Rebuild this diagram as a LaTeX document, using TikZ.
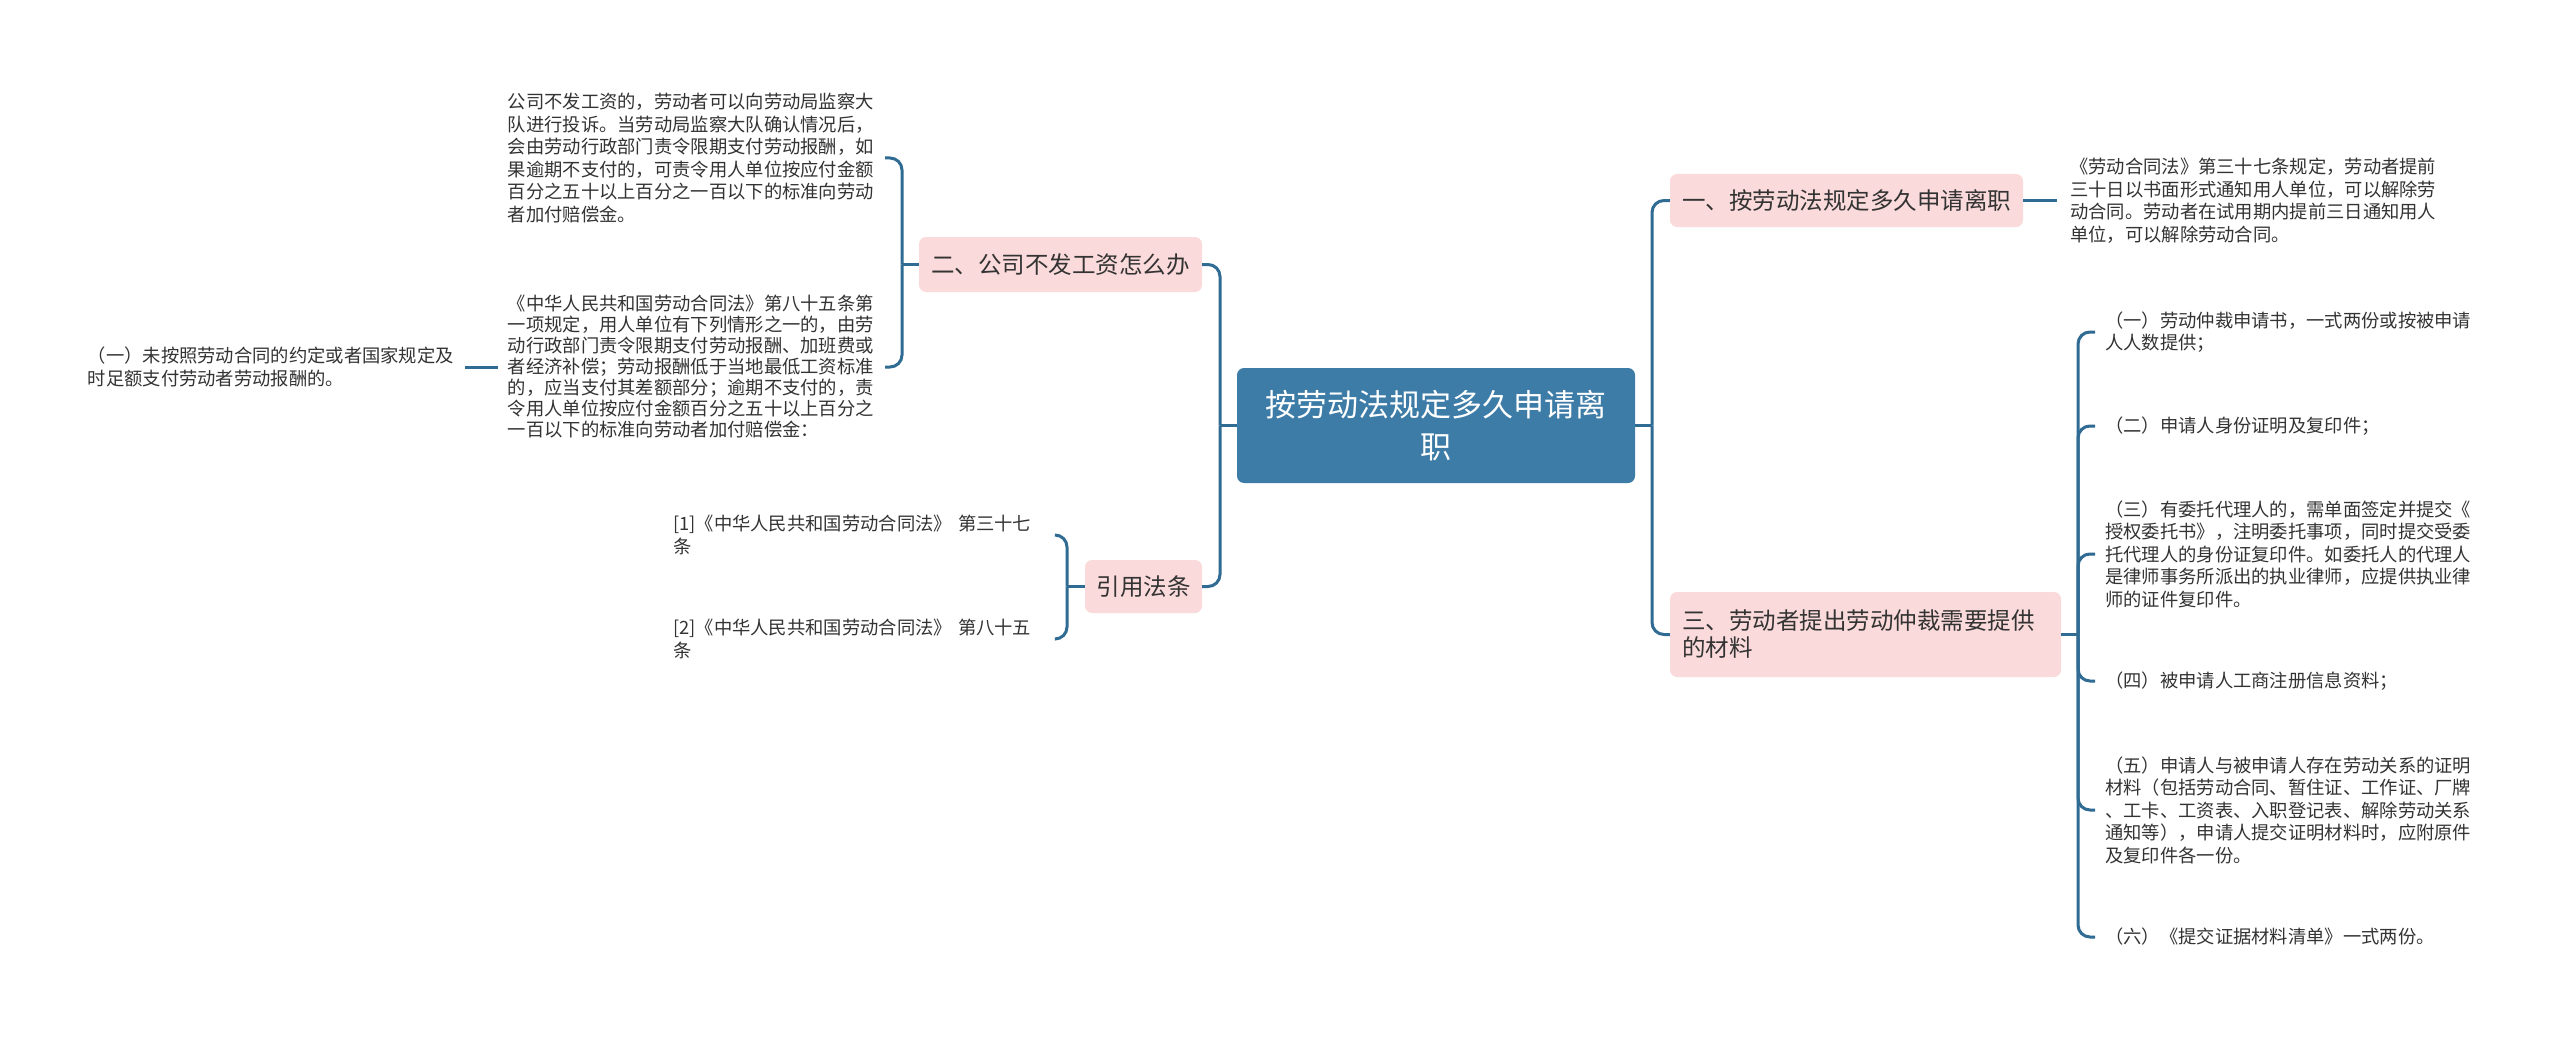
\documentclass[tikz,border=0pt]{standalone}
\usepackage{fontspec}
\setmainfont{Noto Sans CJK SC}
\definecolor{linec}{HTML}{2F6B92}
\definecolor{rootc}{HTML}{3D7CA7}
\definecolor{pinkc}{HTML}{FADADA}
\definecolor{textc}{HTML}{333333}
\begin{document}
\begin{tikzpicture}[x=1pt,y=-1pt,
  conn/.style={draw=linec,line width=3pt,rounded corners=12pt},
  rootbox/.style={fill=rootc,rounded corners=7pt,text=white,font=\fontsize{31}{42}\selectfont,align=center,minimum width=398pt,minimum height=115pt,inner sep=0pt},
  topic/.style={fill=pinkc,rounded corners=7pt,text=textc,font=\fontsize{23.5}{27}\selectfont,inner sep=0pt},
  leaf/.style={text=textc,font=\fontsize{18.3}{22.5}\selectfont,align=left,inner xsep=10pt,inner ysep=2pt,text width=367pt},
]
\useasboundingbox (0,0) rectangle (2560,1038);
\fill[white] (0,0) rectangle (2560,1038);

% root
\node[rootbox] (root) at (1436,425.5) {按劳动法规定多久申请离\\职};

% left topics
\node[topic,minimum width=283pt,minimum height=55pt] (n2) at (1060.5,264.5) {二、公司不发工资怎么办};
\node[topic,minimum width=117pt,minimum height=53pt] (n3) at (1143.5,586.5) {引用法条};

% right topics
\node[topic,minimum width=353pt,minimum height=53pt] (r1) at (1846.5,200.5) {一、按劳动法规定多久申请离职};
\node[topic,minimum width=391pt,minimum height=85pt,text width=367pt,align=left] (r3) at (1865.5,634.5) {三、劳动者提出劳动仲裁需要提供\\的材料};

% left leaves
\node[leaf,anchor=east] (c1) at (885,158) {公司不发工资的，劳动者可以向劳动局监察大\\队进行投诉。当劳动局监察大队确认情况后，\\会由劳动行政部门责令限期支付劳动报酬，如\\果逾期不支付的，可责令用人单位按应付金额\\百分之五十以上百分之一百以下的标准向劳动\\者加付赔偿金。};
\node[leaf,anchor=east,font=\fontsize{18.3}{21}\selectfont] (c2) at (885,367) {《中华人民共和国劳动合同法》第八十五条第\\一项规定，用人单位有下列情形之一的，由劳\\动行政部门责令限期支付劳动报酬、加班费或\\者经济补偿；劳动报酬低于当地最低工资标准\\的，应当支付其差额部分；逾期不支付的，责\\令用人单位按应付金额百分之五十以上百分之\\一百以下的标准向劳动者加付赔偿金：};
\node[leaf,anchor=east] (g1) at (465,367) {（一）未按照劳动合同的约定或者国家规定及\\时足额支付劳动者劳动报酬的。};
\node[leaf,anchor=west,text width=372pt] (ref1) at (663,535) {[1]《中华人民共和国劳动合同法》 第三十七\\条};
\node[leaf,anchor=west,text width=372pt] (ref2) at (663,639) {[2]《中华人民共和国劳动合同法》 第八十五\\条};

% right leaves
\node[leaf,anchor=west,inner xsep=13pt] (rt1) at (2057,200.5) {《劳动合同法》第三十七条规定，劳动者提前\\三十日以书面形式通知用人单位，可以解除劳\\动合同。劳动者在试用期内提前三日通知用人\\单位，可以解除劳动合同。};
\node[leaf,anchor=west] (m1) at (2095,332) {（一）劳动仲裁申请书，一式两份或按被申请\\人人数提供；};
\node[leaf,anchor=west] (m2) at (2095,426) {（二）申请人身份证明及复印件；};
\node[leaf,anchor=west] (m3) at (2095,554) {（三）有委托代理人的，需单面签定并提交《\\授权委托书》，注明委托事项，同时提交受委\\托代理人的身份证复印件。如委托人的代理人\\是律师事务所派出的执业律师，应提供执业律\\师的证件复印件。};
\node[leaf,anchor=west] (m4) at (2095,681) {（四）被申请人工商注册信息资料；};
\node[leaf,anchor=west] (m5) at (2095,810) {（五）申请人与被申请人存在劳动关系的证明\\材料（包括劳动合同、暂住证、工作证、厂牌\\、工卡、工资表、入职登记表、解除劳动关系\\通知等），申请人提交证明材料时，应附原件\\及复印件各一份。};
\node[leaf,anchor=west] (m6) at (2095,937) {（六）《提交证据材料清单》一式两份。};

% junctions
\coordinate (jL) at (1220,425.5);
\coordinate (jR) at (1652,425.5);
\coordinate (j2) at (902,264.5);
\coordinate (j3) at (1067,586.5);
\coordinate (jR3) at (2078,634.5);

% connectors
\draw[conn] (root.west) -- (jL);
\draw[conn] (jL) |- (n2.east);
\draw[conn] (jL) |- (n3.east);
\draw[conn] (root.east) -- (jR);
\draw[conn] (jR) |- (r1.west);
\draw[conn] (jR) |- (r3.west);

\draw[conn] (n2.west) -- (j2);
\draw[conn] (j2) |- (c1.east);
\draw[conn] (j2) |- (c2.east);
\draw[conn] (c2.west) -- (g1.east);

\draw[conn] (n3.west) -- (j3);
\draw[conn] (j3) |- (ref1.east);
\draw[conn] (j3) |- (ref2.east);

\draw[conn] (r1.east) -- (rt1.west);

\draw[conn] (r3.east) -- (jR3);
\draw[conn] (jR3) |- (m1.west);
\draw[conn] (jR3) |- (m2.west);
\draw[conn] (jR3) |- (m3.west);
\draw[conn] (jR3) |- (m4.west);
\draw[conn] (jR3) |- (m5.west);
\draw[conn] (jR3) |- (m6.west);
\end{tikzpicture}
\end{document}
